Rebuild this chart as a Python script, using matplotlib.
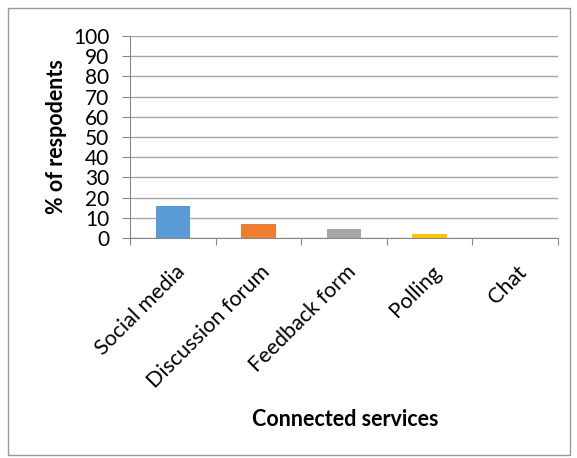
import numpy as np
import matplotlib.pyplot as plt
from matplotlib.patches import Rectangle

plt.rcParams['font.family'] = ['Lato', 'DejaVu Sans']

categories = ["Social media", "Discussion forum", "Feedback form", "Polling", "Chat"]
values = [16, 6.7, 4.5, 2.2, 0]
colors = ["#5b9bd5", "#ed7d31", "#a5a5a5", "#ffc000", "#4472c4"]

fig = plt.figure(figsize=(5.77, 4.58), dpi=100)
ax = fig.add_axes([130/577, 1-238/458, 428/577, 202/458])

x = np.arange(len(categories))
ax.bar(x, values, width=0.4, color=colors, zorder=3)

ax.set_xlim(-0.5, len(categories)-0.5)
ax.set_ylim(0, 100)
ax.set_yticks(np.arange(0, 101, 10))
ax.tick_params(axis='y', labelsize=15, length=6, color='#888888', pad=9)
ax.set_xticks(np.arange(-0.5, len(categories), 1))
ax.set_xticklabels([])
ax.tick_params(axis='x', length=5, color='#888888')
ax.set_xticks(x + 0.02, minor=True)
ax.set_xticklabels(categories, minor=True, rotation=45, ha='right', rotation_mode='anchor', fontsize=15.5)
ax.tick_params(axis='x', which='minor', length=0, pad=17)

ax.yaxis.grid(True, color='#a6a6a6', linewidth=1, zorder=0)
for s in ['top', 'right']:
    ax.spines[s].set_visible(False)
ax.spines['left'].set_color('#888888')
ax.spines['bottom'].set_color('#888888')

ax.set_ylabel("% of respodents", fontsize=15.5, fontweight='bold', labelpad=4)
fig.text(345/577, 1-420/458, "Connected services", fontsize=15.5, fontweight='bold', ha='center', va='center')

fig.patches.append(Rectangle((8/577, 1-455/458), 562/577, 447/458, transform=fig.transFigure,
                             fill=False, edgecolor='#999999', linewidth=1))

fig.savefig("out.png", dpi=100)
